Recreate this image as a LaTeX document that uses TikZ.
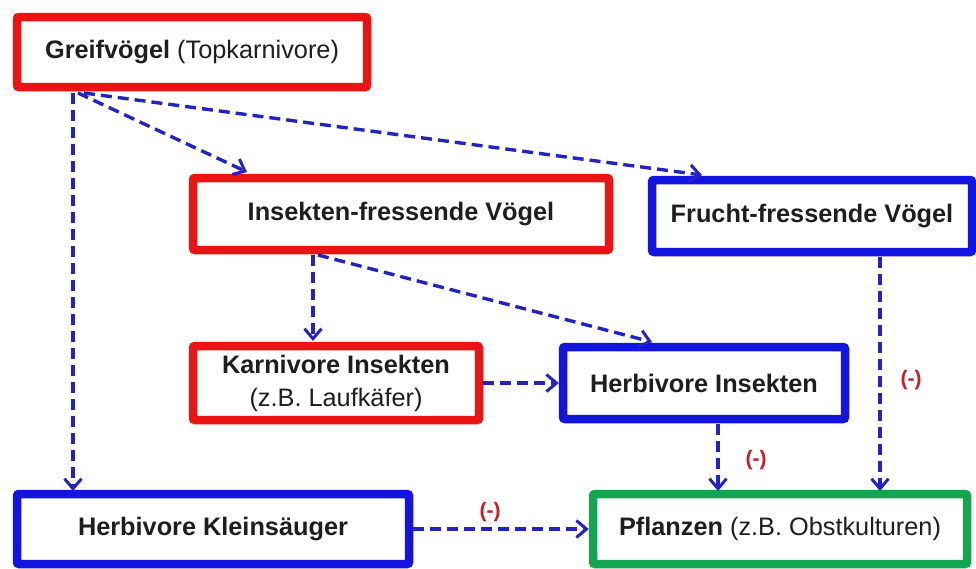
\documentclass[tikz,border=0pt]{standalone}
\usepackage{fontspec}
\setmainfont{Liberation Sans}
\usetikzlibrary{arrows.meta}
\definecolor{cred}{RGB}{235,20,20}
\definecolor{cblue}{RGB}{20,20,225}
\definecolor{cgreen}{RGB}{20,165,80}
\definecolor{carrow}{RGB}{35,35,195}
\definecolor{ctext}{RGB}{30,30,30}
\definecolor{cminus}{RGB}{200,30,40}
\tikzset{
  box/.style={draw, line width=8.5pt, rounded corners=2pt, fill=white, text=ctext, font=\fontsize{25.3}{33}\selectfont, align=center, inner sep=0pt},
  redbox/.style={box, draw=cred},
  bluebox/.style={box, draw=cblue},
  greenbox/.style={box, draw=cgreen},
  link/.style={draw=carrow, line width=3.4pt, dash pattern=on 11pt off 6pt, -{Straight Barb[length=10pt,width=17pt,line width=3pt]}},
  minus/.style={text=cminus, font=\fontsize{21}{24}\selectfont\bfseries}
}
\begin{document}
\begin{tikzpicture}[x=1pt,y=-1pt]
\useasboundingbox (0,0) rectangle (976,568);
\node[redbox, minimum width=350pt, minimum height=70pt] (gv) at (192,52) {\textbf{Greifvögel} (Topkarnivore)};
\node[redbox, minimum width=416pt, minimum height=72pt] (ifv) at (401,214) {\textbf{Insekten-fressende Vögel}};
\node[bluebox, minimum width=320pt, minimum height=72pt] (ffv) at (812,216) {\textbf{Frucht-fressende Vögel}};
\node[redbox, minimum width=286pt, minimum height=74pt] (ki) at (336,383) {\textbf{Karnivore Insekten}\\(z.B. Laufkäfer)};
\node[bluebox, minimum width=282pt, minimum height=72pt] (hi) at (704,383) {\textbf{Herbivore Insekten}};
\node[bluebox, minimum width=392pt, minimum height=70pt] (hk) at (213,529) {\textbf{Herbivore Kleinsäuger}};
\node[greenbox, minimum width=374pt, minimum height=70pt] (pf) at (780,529) {\textbf{Pflanzen} (z.B. Obstkulturen)};
\coordinate (g1) at (73,93);
\coordinate (g2) at (78,93);
\coordinate (g3) at (84,93);
\coordinate (i1) at (313,255);
\coordinate (i2) at (318,255);
\draw[link] (g1) -- (73,491);
\draw[link] (g2) -- (247,172);
\draw[link] (g3) -- (702,175);
\draw[link] (i1) -- (313,341);
\draw[link] (i2) -- (652,342);
\draw[link] (ki.east) -- (hi.west);
\draw[link] (718,424) -- (718,491);
\draw[link] (880,257) -- (880,491);
\draw[link] (hk.east) -- (pf.west);
\node[minus] (m1) at (756,460) {(-)};
\node[minus] (m2) at (911,380) {(-)};
\node[minus] (m3) at (490,512) {(-)};
\end{tikzpicture}
\end{document}
